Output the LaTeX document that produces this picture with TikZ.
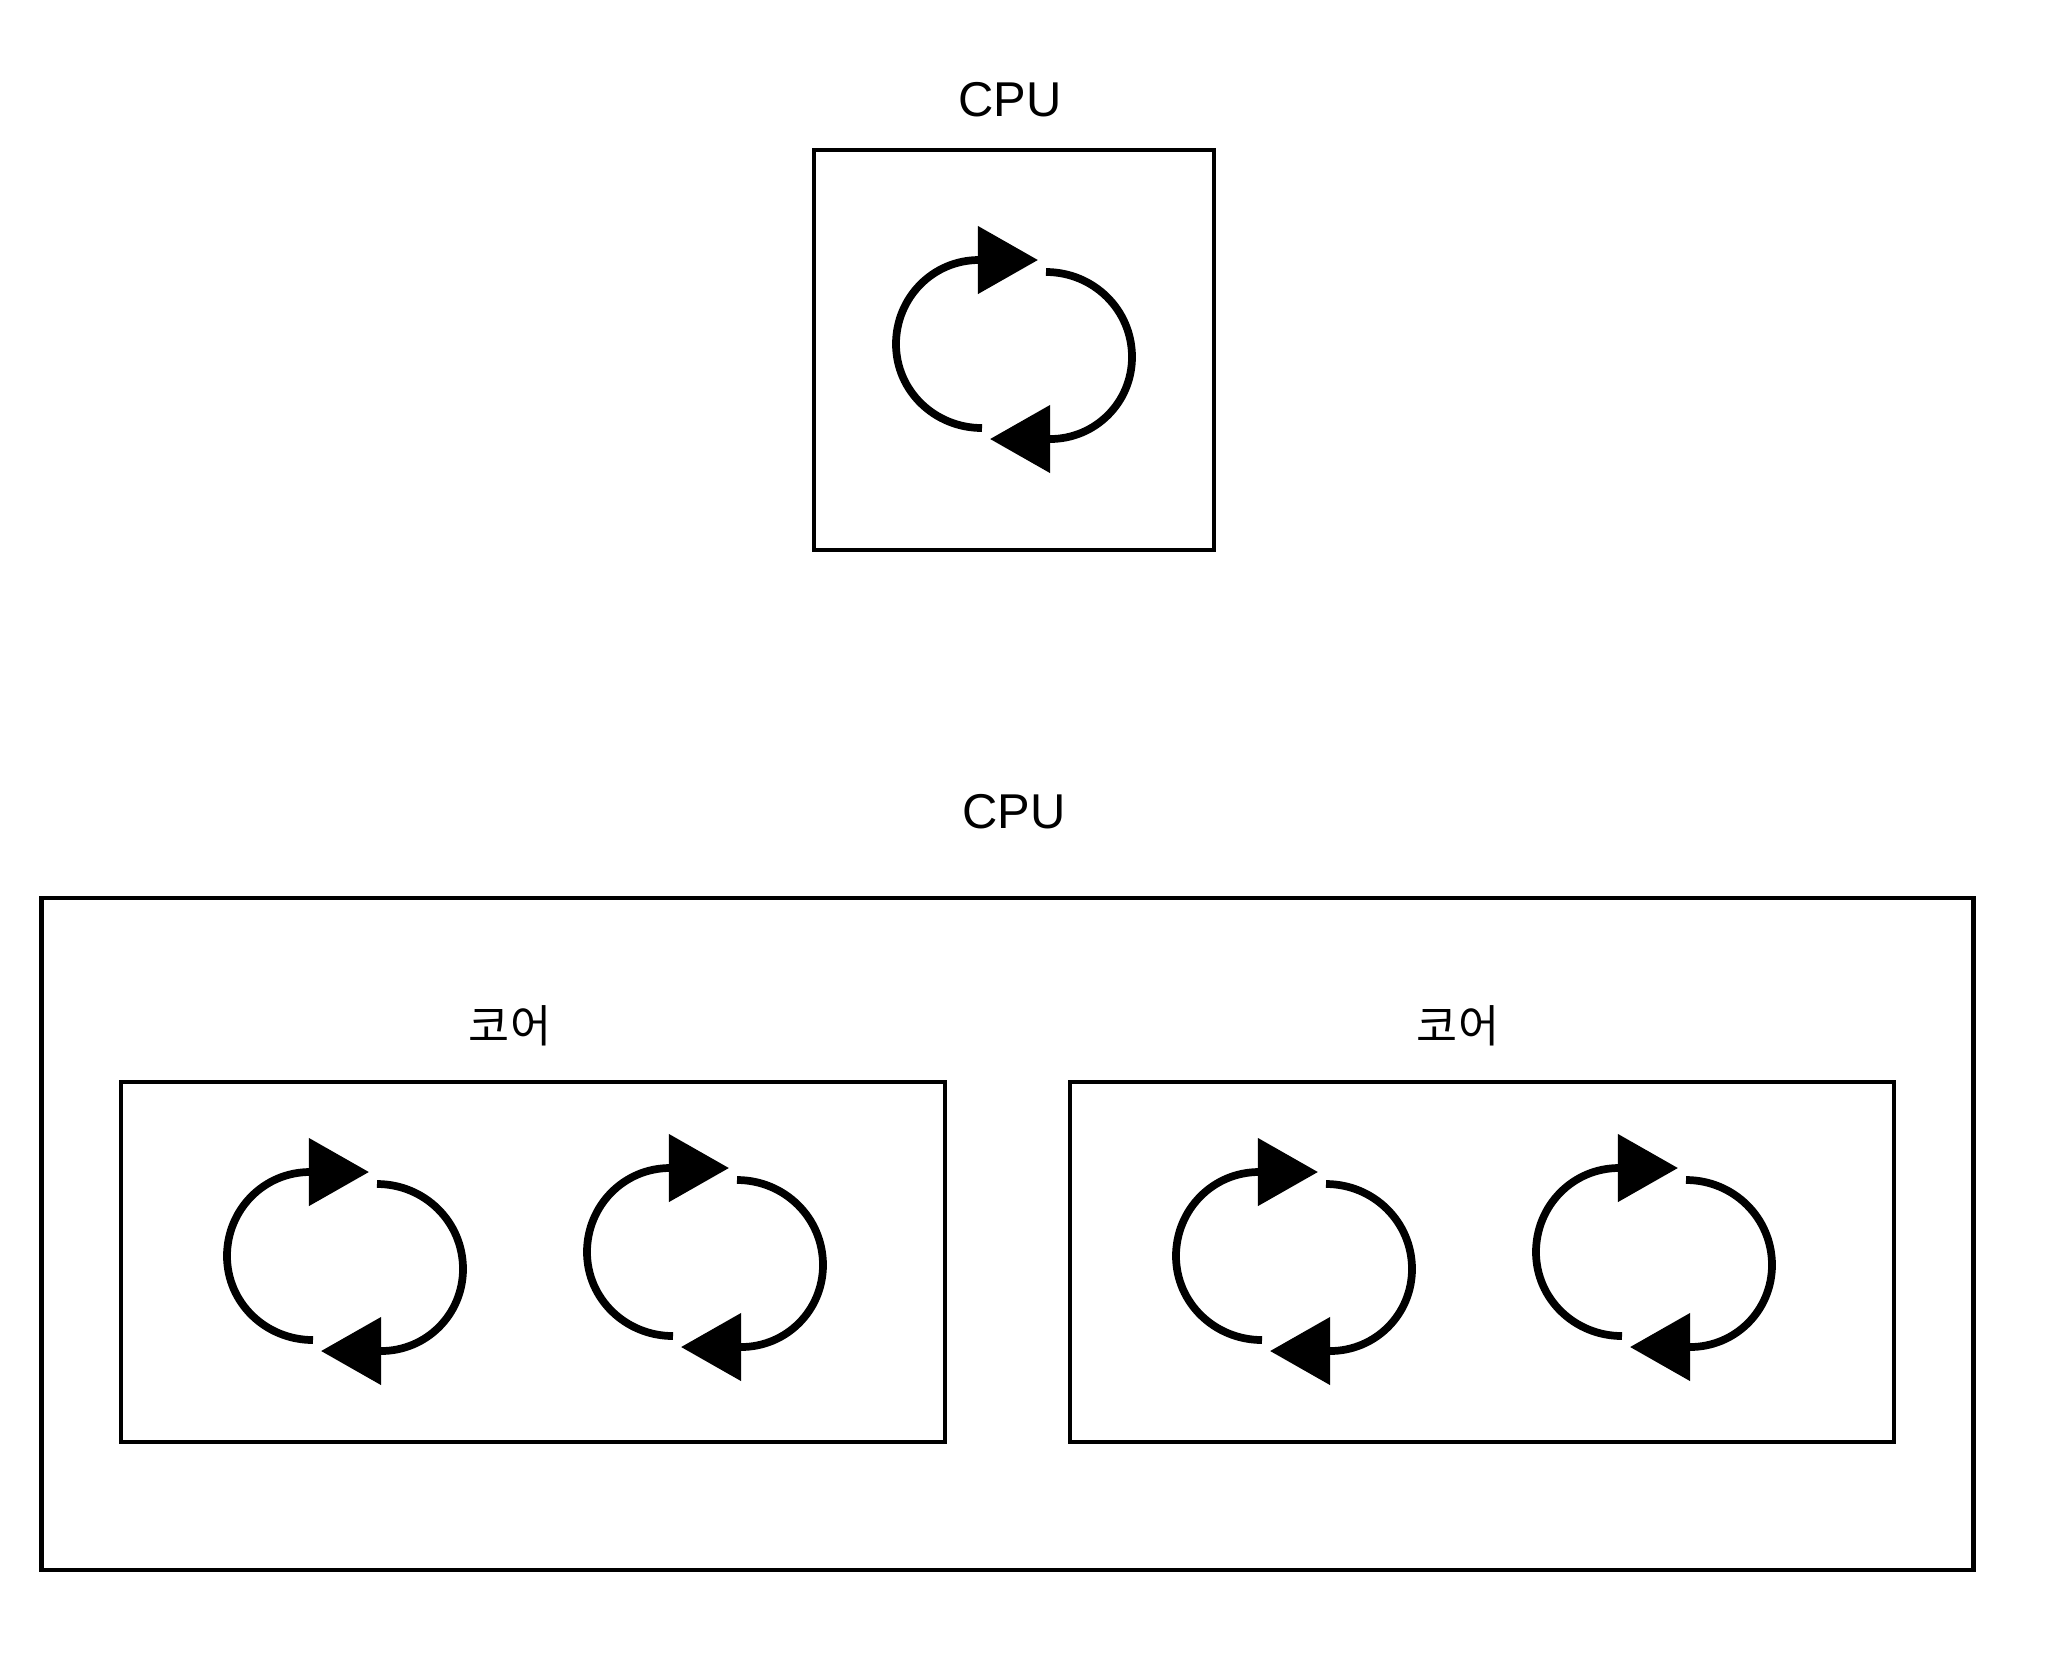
\documentclass[tikz,border=0pt]{standalone}
\usepackage{fontspec}
\setmainfont{Liberation Sans}
\newfontfamily\cjk{Noto Sans CJK KR}
\usepackage{tikz}
\usetikzlibrary{positioning,arrows.meta}

\begin{document}
\begin{tikzpicture}[
  x=0.01cm, y=0.01cm,
  caja/.style={draw, line width=1.25pt, inner sep=0pt, outer sep=0pt},
  etiq/.style={font=\fontsize{13.9pt}{16pt}\selectfont, inner sep=0pt},
  etiqcjk/.style={font=\fontsize{12.7pt}{16pt}\selectfont\cjk, inner sep=0pt},
  flecha/.style={-{Triangle[length=6mm, width=6.6mm]}, line width=2.2pt},
  ciclo/.pic={
    \coordinate (-a) at (-33,-78);
    \coordinate (-l) at (-119,6);
    \coordinate (-b) at (-36,90);
    \coordinate (-p) at (23,90);
    \coordinate (-c) at (31,78);
    \coordinate (-r) at (117,-7);
    \coordinate (-d) at (35,-89);
    \coordinate (-q) at (-25,-89);
    \draw[flecha] (-a) to[out=180, in=-90] (-l) to[out=90, in=180] (-b) -- (-p);
    \draw[flecha] (-c) to[out=0, in=90] (-r) to[out=-90, in=0] (-d) -- (-q);
  }
]
  \useasboundingbox (0,0) rectangle (2072,-1656);

  \node[caja, minimum width=4cm, minimum height=4cm] (cpuA) at (1014,-350) {};
  \node[etiq] (etiqA) at (1010,-100) {CPU};
  \pic (hilo) at (1015,-350) {ciclo};

  \node[caja, minimum width=19.31cm, minimum height=6.72cm] (cpuB) at (1007.5,-1234) {};
  \node[etiq] (etiqB) at (1014,-812) {CPU};

  \node[caja, minimum width=8.24cm, minimum height=3.6cm] (coreA) at (533,-1262) {};
  \node[caja, minimum width=8.24cm, minimum height=3.6cm] (coreB) at (1482,-1262) {};
  \node[etiqcjk] (etiqC) at (510,-1026) {코어};
  \node[etiqcjk] (etiqD) at (1458,-1026) {코어};

  \pic (hiloA) at (346,-1262) {ciclo};
  \pic (hiloB) at (706,-1258) {ciclo};
  \pic (hiloC) at (1295,-1262) {ciclo};
  \pic (hiloD) at (1655,-1258) {ciclo};
\end{tikzpicture}
\end{document}
